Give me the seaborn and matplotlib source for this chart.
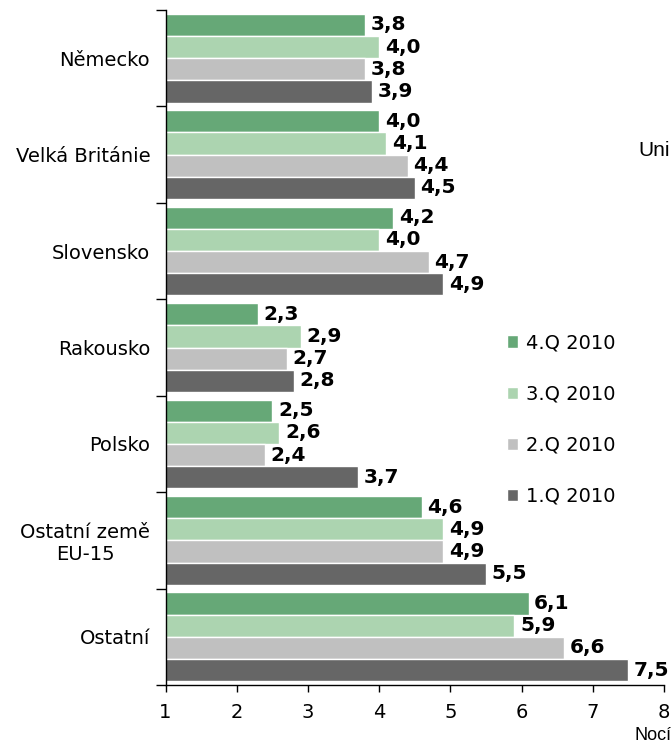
import pandas as pd
import matplotlib.pyplot as plt
import seaborn as sns

# Data
countries = ['Německo', 'Velká Británie', 'Slovensko', 'Rakousko', 'Polsko',
             'Ostatní země\nEU-15', 'Ostatní']
quarters = ['4.Q 2010', '3.Q 2010', '2.Q 2010', '1.Q 2010']
q4 = [3.8, 4.0, 4.2, 2.3, 2.5, 4.6, 6.1]
q3 = [4.0, 4.1, 4.0, 2.9, 2.6, 4.9, 5.9]
q2 = [3.8, 4.4, 4.7, 2.7, 2.4, 4.9, 6.6]
q1 = [3.9, 4.5, 4.9, 2.8, 3.7, 5.5, 7.5]
colors = ['#66a877', '#acd4b0', '#c0c0c0', '#666666']

df = pd.DataFrame({'country': countries * 4,
                   'quarter': [q for q in quarters for _ in countries],
                   'value': q4 + q3 + q2 + q1})

sns.set_style('white')
plt.rcParams['font.family'] = ['DejaVu Sans']
plt.rcParams['text.color'] = 'black'
plt.rcParams['xtick.color'] = 'black'
plt.rcParams['ytick.color'] = 'black'

fig = plt.figure(figsize=(6.72, 7.44), dpi=100)
ax = fig.add_axes([165.5 / 672, 1 - 685 / 744, (664 - 165.5) / 672, (685 - 10) / 744])

sns.barplot(data=df, y='country', x='value', hue='quarter', order=countries,
            hue_order=quarters, palette=colors, saturation=1, orient='h', width=0.92,
            edgecolor='white', linewidth=1, ax=ax)

ax.set_xlim(1, 8)
ax.set_ylim(len(countries) - 0.5, -0.5)
ax.set_xticks(range(1, 9))
ax.set_yticks([i - 0.5 for i in range(len(countries) + 1)], minor=False)
ax.set_yticklabels([])
ax.set_yticks(range(len(countries)), minor=True)
ax.set_yticklabels(countries, minor=True, fontsize=14, ha='right', multialignment='center')
ax.tick_params(axis='y', which='minor', length=0, pad=11)
ax.tick_params(axis='y', which='major', length=7, width=1, direction='out', left=True)
ax.tick_params(axis='x', length=5, width=1, direction='out', bottom=True, labelsize=14, pad=8)
ax.set_xlabel('')
ax.set_ylabel('')
for s in ['top', 'right']:
    ax.spines[s].set_visible(False)
for s in ['left', 'bottom']:
    ax.spines[s].set_color('black')
    ax.spines[s].set_linewidth(1)

for cont in ax.containers:
    labels = [f'{v:.1f}'.replace('.', ',') for v in cont.datavalues]
    ax.bar_label(cont, labels=labels, padding=4, fontsize=14.5, fontweight='bold', clip_on=False)

handles, labs = ax.get_legend_handles_labels()
ax.legend(handles, labs, loc='upper left', bbox_to_anchor=(489 / 672, 1 - 316 / 744),
          bbox_transform=fig.transFigure, frameon=False, fontsize=14, handlelength=0.6,
          handleheight=0.6, handletextpad=0.4, labelspacing=1.65)

fig.text(638 / 672, 1 - 150 / 744, 'Uni', fontsize=15, family='Liberation Sans', va='center')
fig.text(634 / 672, 1 - 736 / 744, 'Nocí', fontsize=13, family='Liberation Sans', va='center')

plt.savefig('out.png', dpi=100)
